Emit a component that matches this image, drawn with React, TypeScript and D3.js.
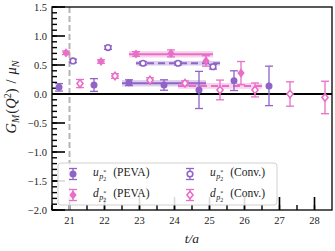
import * as d3 from "d3";

const W = 335;
const H = 251;
const MARGIN = { top: 7, right: 3, bottom: 41, left: 52 };

const PURPLE = "#9063c6";
const PINK = "#e86ec6";

// per-timeslice data (t/a), null = no point
const tSlices = [21, 22, 23, 24, 25, 26, 27, 28];
const uPevaVal = [0.115, 0.155, 0.195, 0.155, 0.07, 0.23, 0.14, null];
const uPevaErr = [0.065, 0.11, 0.05, 0.09, 0.32, 0.17, 0.34, null];
const dPevaVal = [0.71, 0.56, 0.69, 0.7, 0.57, 0.36, null, null];
const dPevaErr = [0.03, 0.03, 0.04, 0.06, 0.09, 0.2, null, null];
const uConvVal = [0.57, 0.8, 0.53, 0.53, 0.47, null, null, null];
const uConvErr = [0.03, 0.03, 0.03, 0.03, 0.04, null, null, null];
const dConvVal = [0.18, 0.31, 0.24, 0.185, 0.07, 0.07, 0.0, -0.06];
const dConvErr = [0.07, 0.04, 0.04, 0.04, 0.17, 0.12, 0.21, 0.28];

// plateau fits (u PEVA, d PEVA, u Conv, d Conv)
const fitValue = [0.185, 0.685, 0.53, 0.14];
const fitError = [0.055, 0.055, 0.04, 0.05];
const fitStart = [22.5, 22.7, 22.9, 24.1];
const fitEnd = [24.9, 25.1, 25.3, 26.5];

const offsets = [-0.3, -0.1, 0.1, 0.3];
const xTicks = [21, 22, 23, 24, 25, 26, 27, 28];
const yTicks = [1.5, 1.0, 0.5, 0.0, -0.5, -1.0, -1.5, -2.0];

const series = [
  { name: "u", tag: "(PEVA)", vals: uPevaVal, errs: uPevaErr, color: PURPLE, shape: "circle", open: false, dashed: false },
  { name: "d", tag: "(PEVA)", vals: dPevaVal, errs: dPevaErr, color: PINK, shape: "diamond", open: false, dashed: false },
  { name: "u", tag: "(Conv.)", vals: uConvVal, errs: uConvErr, color: PURPLE, shape: "circle", open: true, dashed: true },
  { name: "d", tag: "(Conv.)", vals: dConvVal, errs: dConvErr, color: PINK, shape: "diamond", open: true, dashed: true },
];

const FONT = "'Liberation Serif', 'DejaVu Serif', serif";

const Marker = ({ x, y, color, shape, open }) => {
  const fill = open ? "white" : color;
  const sw = open ? 1.6 : 0;
  if (shape === "circle") {
    return <circle cx={x} cy={y} r={open ? 2.8 : 3.5} fill={fill} stroke={color} strokeWidth={sw} />;
  }
  const s = open ? 3.8 : 4.6;
  return (
    <path
      d={`M${x},${y - s}L${x + s * 0.8},${y}L${x},${y + s}L${x - s * 0.8},${y}Z`}
      fill={fill}
      stroke={color}
      strokeWidth={sw}
    />
  );
};

const ErrPoint = ({ x, y0, y1, y, color, shape, open }) => (
  <g>
    <line x1={x} x2={x} y1={y0} y2={y1} stroke={color} strokeWidth={1.3} />
    <line x1={x - 4} x2={x + 4} y1={y0} y2={y0} stroke={color} strokeWidth={1.3} />
    <line x1={x - 4} x2={x + 4} y1={y1} y2={y1} stroke={color} strokeWidth={1.3} />
    <Marker x={x} y={y} color={color} shape={shape} open={open} />
  </g>
);

const Label = ({ x, y, name, tag }) => (
  <text x={x} y={y} fontFamily={FONT} fontSize={11.5} fill="#222">
    <tspan fontStyle="italic">{name}</tspan>
    <tspan dx={0.5} dy={3} fontSize={8} fontStyle="italic">p</tspan>
    <tspan dy={2} fontSize={6}>2</tspan>
    <tspan dx={-3} dy={-7.5} fontSize={6}>*</tspan>
    <tspan dx={7} dy={2.5}>{tag}</tspan>
  </text>
);

export default function App() {
  const x = d3.scaleLinear().domain([20.5, 28.5]).range([MARGIN.left, W - MARGIN.right]);
  const y = d3.scaleLinear().domain([-2, 1.5]).range([H - MARGIN.bottom, MARGIN.top]);
  const x0 = MARGIN.left;
  const x1 = W - MARGIN.right;
  const yTop = MARGIN.top;
  const yBot = H - MARGIN.bottom;

  const yMinor = d3.range(-20, 16).map((d) => d / 10);
  const xMinor = d3.range(41, 57).map((d) => d / 2);

  const legendPos = [
    [73, 174],
    [73, 195],
    [190, 174],
    [190, 195],
  ];

  return (
    <svg width={W} height={H} style={{ position: "absolute", left: 0, top: 0 }}>
      <rect width={W} height={H} fill="white" />

      {/* axis ticks (inward) */}
      {yMinor.map((v) => (
        <line key={"ym" + v} x1={x0} x2={x0 + 5} y1={y(v)} y2={y(v)} stroke="black" strokeWidth={1.4} />
      ))}
      {yTicks.map((v) => (
        <line key={"yM" + v} x1={x0} x2={x0 + 13} y1={y(v)} y2={y(v)} stroke="black" strokeWidth={1.6} />
      ))}
      {xMinor.map((v) => (
        <line key={"xm" + v} x1={x(v)} x2={x(v)} y1={yBot} y2={yBot - 5} stroke="black" strokeWidth={1.4} />
      ))}
      {xTicks.map((v) => (
        <line key={"xM" + v} x1={x(v)} x2={x(v)} y1={yBot} y2={yBot - 13} stroke="black" strokeWidth={1.6} />
      ))}

      {/* reference lines */}
      <line x1={x(21)} x2={x(21)} y1={yTop} y2={yBot} stroke="#b5b5b5" strokeWidth={2} strokeDasharray="6,3" />
      <line x1={x0} x2={x1} y1={y(0)} y2={y(0)} stroke="black" strokeWidth={2} />

      {/* plateau fits */}
      {series.map((s, i) => (
        <g key={"fit" + i}>
          <rect
            x={x(fitStart[i])}
            y={y(fitValue[i] + fitError[i])}
            width={x(fitEnd[i]) - x(fitStart[i])}
            height={y(fitValue[i] - fitError[i]) - y(fitValue[i] + fitError[i])}
            fill={s.color}
            opacity={0.3}
          />
          <line
            x1={x(fitStart[i])}
            x2={x(fitEnd[i])}
            y1={y(fitValue[i])}
            y2={y(fitValue[i])}
            stroke={s.color}
            strokeWidth={2}
            strokeDasharray={s.dashed ? "7,4" : null}
          />
        </g>
      ))}

      {/* data points */}
      {series.map((s, i) =>
        tSlices.map((t, j) => {
          const v = s.vals[j];
          if (v === null) return null;
          const e = s.errs[j];
          return (
            <ErrPoint
              key={i + "-" + t}
              x={x(t + offsets[i])}
              y={y(v)}
              y0={y(v + e)}
              y1={y(v - e)}
              color={s.color}
              shape={s.shape}
              open={s.open}
            />
          );
        })
      )}

      {/* frame */}
      <rect x={x0} y={yTop} width={x1 - x0} height={yBot - yTop} fill="none" stroke="black" strokeWidth={1.3} />

      {/* tick labels */}
      {yTicks.map((v) => (
        <text key={"yl" + v} x={x0 - 5} y={y(v) + 3.5} textAnchor="end" fontFamily={FONT} fontSize={10.5} fill="#222">
          {d3.format(".1f")(v).replace("-", "\u2212")}
        </text>
      ))}
      {xTicks.map((v) => (
        <text key={"xl" + v} x={x(v)} y={yBot + 14} textAnchor="middle" fontFamily={FONT} fontSize={10.5} fill="#222">
          {v}
        </text>
      ))}

      {/* axis labels */}
      <text x={192} y={243} textAnchor="middle" fontFamily={FONT} fontSize={13.5} fontStyle="italic" fill="#222">
        t/a
      </text>
      <text transform="translate(16,97) rotate(-90)" textAnchor="middle" fontFamily={FONT} fontSize={14.5} fill="#222">
        <tspan fontStyle="italic">G</tspan>
        <tspan dy={3} fontSize={10} fontStyle="italic">M</tspan>
        <tspan dx={1} dy={-3}>(</tspan>
        <tspan fontStyle="italic">Q</tspan>
        <tspan dy={-5} fontSize={10}>2</tspan>
        <tspan dy={5}>)</tspan>
        <tspan dx={5}>/</tspan>
        <tspan dx={5} fontStyle="italic">μ</tspan>
        <tspan dy={3} fontSize={10} fontStyle="italic">N</tspan>
      </text>

      {/* legend */}
      <rect x={58} y={163} width={219} height={42} rx={3} fill="white" fillOpacity={0.85} stroke="#d0d0d0" strokeWidth={1} />
      {series.map((s, i) => {
        const [lx, ly] = legendPos[i];
        return (
          <g key={"lg" + i}>
            <ErrPoint x={lx} y={ly} y0={ly - 5.5} y1={ly + 5.5} color={s.color} shape={s.shape} open={s.open} />
            <Label x={lx + 20} y={ly + 2} name={s.name} tag={s.tag} />
          </g>
        );
      })}
    </svg>
  );
}
